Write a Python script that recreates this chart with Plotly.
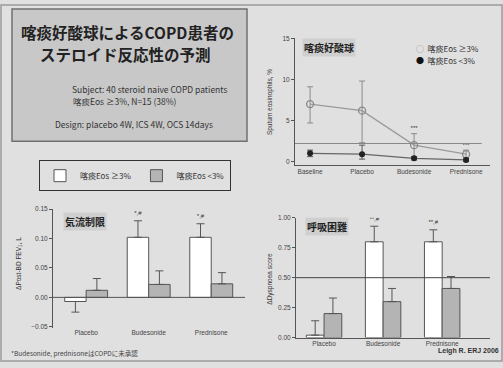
import plotly.graph_objects as go

W, H = 503, 368
FONT = "Liberation Sans, Noto Sans CJK JP"
JP = "Noto Sans CJK JP, Liberation Sans"

# ---- data ----
sp_cats = ["Baseline", "Placebo", "Budesonide", "Prednisone"]
sp_high = [7.0, 6.2, 2.0, 0.9]
sp_high_up = [2.1, 3.6, 1.4, 0.5]
sp_high_dn = [2.3, 3.9, 1.4, 0.4]
sp_low = [1.0, 0.9, 0.4, 0.2]
sp_low_up = [0.4, 1.1, 0.2, 0.2]
sp_low_dn = [0.4, 0.6, 0.2, 0.2]
sp_ref = 2.2

tr_cats = ["Placebo", "Budesonide", "Prednisone"]
fev_high = [-0.007, 0.102, 0.102]
fev_high_up = [0.0, 0.028, 0.023]
fev_high_dn = [0.018, 0.0, 0.0]
fev_low = [0.012, 0.022, 0.023]
fev_low_up = [0.020, 0.023, 0.019]

dys_high = [0.02, 0.80, 0.80]
dys_high_up = [0.12, 0.13, 0.10]
dys_low = [0.20, 0.30, 0.41]
dys_low_up = [0.13, 0.11, 0.10]
dys_ref = 0.5

sig_fev = ["", "*,#", "*,#"]
sig_dys = ["", "**,#", "**,#"]
sig_sp = ["", "", "***", "***"]

lab_high = "喀痰Eos ≥3%"
lab_low = "喀痰Eos <3%"

BG = "#e0e0e0"
AX = "#555555"
GREY = "#b4b4b4"

def px(x): return x / W
def py(y): return 1 - y / H

def keep(xs, ys, labels):
    idx = [i for i, t in enumerate(labels) if t]
    return [xs[i] for i in idx], [ys[i] for i in idx], [labels[i] for i in idx]

fig = go.Figure()

# ---- chart 1: sputum eosinophils ----
xs = list(range(len(sp_cats)))
fig.add_trace(go.Scatter(
    x=xs, y=sp_high, mode="lines+markers", name=lab_high, showlegend=False,
    line=dict(color="#9a9a9a", width=1.3),
    marker=dict(symbol="circle-open", size=7, color="#888888", line=dict(width=1.3)),
    error_y=dict(type="data", array=sp_high_up, arrayminus=sp_high_dn, symmetric=False,
                 color="#8a8a8a", thickness=1, width=3),
    xaxis="x", yaxis="y"))
fig.add_trace(go.Scatter(
    x=xs, y=sp_low, mode="lines+markers", name=lab_low, showlegend=False,
    line=dict(color="#666666", width=1.3),
    marker=dict(symbol="circle", size=6, color="#222222"),
    error_y=dict(type="data", array=sp_low_up, arrayminus=sp_low_dn, symmetric=False,
                 color="#555555", thickness=1, width=3),
    xaxis="x", yaxis="y"))
sx, sy, st = keep(xs, [h + u + 0.6 for h, u in zip(sp_high, sp_high_up)], sig_sp)
fig.add_trace(go.Scatter(
    x=sx, y=sy, mode="text", text=st, textfont=dict(size=6, color="#333"), showlegend=False,
    xaxis="x", yaxis="y", hoverinfo="skip"))

# ---- chart 2: FEV1 ----
x3 = list(range(len(tr_cats)))
w2 = 0.343
fig.add_trace(go.Bar(
    x=x3, y=fev_high, width=w2, offset=-w2, name=lab_high,
    marker=dict(color="white", line=dict(color=AX, width=1)),
    error_y=dict(type="data", array=fev_high_up, arrayminus=fev_high_dn, symmetric=False,
                 color=AX, thickness=1, width=4),
    xaxis="x2", yaxis="y2", legend="legend2"))
fig.add_trace(go.Bar(
    x=x3, y=fev_low, width=w2, offset=0, name=lab_low,
    marker=dict(color=GREY, line=dict(color=AX, width=1)),
    error_y=dict(type="data", array=fev_low_up, arrayminus=[0]*3, symmetric=False,
                 color=AX, thickness=1, width=4),
    xaxis="x2", yaxis="y2", legend="legend2"))
sx, sy, st = keep([x - w2 / 2 for x in x3], [h + u + 0.012 for h, u in zip(fev_high, fev_high_up)], sig_fev)
fig.add_trace(go.Scatter(
    x=sx, y=sy, mode="text", text=st, textfont=dict(size=6, color="#333"), showlegend=False,
    xaxis="x2", yaxis="y2", hoverinfo="skip"))

# ---- chart 3: dyspnoea ----
w3 = 0.30
fig.add_trace(go.Bar(
    x=x3, y=dys_high, width=w3, offset=-w3, name=lab_high, showlegend=False,
    marker=dict(color="white", line=dict(color=AX, width=1)),
    error_y=dict(type="data", array=dys_high_up, arrayminus=[0]*3, symmetric=False,
                 color=AX, thickness=1, width=4),
    xaxis="x3", yaxis="y3"))
fig.add_trace(go.Bar(
    x=x3, y=dys_low, width=w3, offset=0, name=lab_low, showlegend=False,
    marker=dict(color=GREY, line=dict(color=AX, width=1)),
    error_y=dict(type="data", array=dys_low_up, arrayminus=[0]*3, symmetric=False,
                 color=AX, thickness=1, width=4),
    xaxis="x3", yaxis="y3"))
sx, sy, st = keep([x - w3 / 2 for x in x3], [h + u + 0.06 for h, u in zip(dys_high, dys_high_up)], sig_dys)
fig.add_trace(go.Scatter(
    x=sx, y=sy, mode="text", text=st, textfont=dict(size=6, color="#333"), showlegend=False,
    xaxis="x3", yaxis="y3", hoverinfo="skip"))

axcommon = dict(showline=True, linecolor=AX, linewidth=1, ticklen=3,
                tickcolor=AX, showgrid=False, zeroline=False,
                tickfont=dict(size=6.5, color="#444", family=FONT), fixedrange=True)

fig.update_layout(
    width=W, height=H, margin=dict(l=0, r=0, t=0, b=0),
    paper_bgcolor=BG, plot_bgcolor="rgba(0,0,0,0)",
    font=dict(family=FONT, color="#333"),
    barmode="overlay",
    xaxis=dict(domain=[px(295), px(490)], range=[-0.29, 3.46], anchor="y",
               tickvals=xs, ticktext=sp_cats, ticks="", **axcommon),
    yaxis=dict(domain=[py(164), py(35)], range=[-0.4, 15], anchor="x", ticks="outside",
               tickvals=[0, 5, 10, 15], **axcommon),
    xaxis2=dict(domain=[px(53), px(245)], range=[-0.53, 2.54], anchor="y2",
                tickvals=x3, ticktext=tr_cats, ticks="", **{**axcommon, "showline": False}),
    yaxis2=dict(domain=[py(330), py(209)], range=[-0.0515, 0.15], anchor="x2", ticks="outside",
                tickvals=[-0.05, 0, 0.05, 0.10, 0.15], tickformat=".2f", **axcommon),
    xaxis3=dict(domain=[px(296), px(490)], range=[-0.475, 2.81], anchor="y3",
                tickvals=x3, ticktext=tr_cats, ticks="", **axcommon),
    yaxis3=dict(domain=[py(340), py(218)], range=[0, 1.0], anchor="x3", ticks="outside",
                tickvals=[0, 0.25, 0.5, 0.75, 1.0], tickformat=".2f", **axcommon),
    legend2=dict(x=px(135), y=py(175), xanchor="center", yanchor="middle", orientation="h",
                 bgcolor="rgba(0,0,0,0)", bordercolor="#333", borderwidth=1,
                 font=dict(size=8, family=JP, color="#333"), itemwidth=30),
    showlegend=True,
)

shapes = [
    dict(type="rect", xref="paper", yref="paper", x0=px(1), x1=px(502), y0=py(364), y1=py(1),
         line=dict(color="#9a9a9a", width=1.5)),
    dict(type="rect", xref="paper", yref="paper", x0=px(12), x1=px(247), y0=py(140), y1=py(5),
         fillcolor="#c8c8c8", line=dict(color="#707070", width=1.5), layer="below"),
    dict(type="line", xref="x", yref="y", x0=-0.29, x1=3.3, y0=sp_ref, y1=sp_ref,
         line=dict(color="#888888", width=1)),
    dict(type="line", xref="x3", yref="y3", x0=-0.475, x1=2.81, y0=dys_ref, y1=dys_ref,
         line=dict(color="#444444", width=1)),
    dict(type="line", xref="x2", yref="y2", x0=-0.53, x1=2.54, y0=0, y1=0,
         line=dict(color=AX, width=1)),
]
fig.update_layout(shapes=shapes)

ann = [
    dict(text="<b>喀痰好酸球によるCOPD患者の</b>", x=px(128), y=py(29), font=dict(size=15.5, family=JP, color="#222")),
    dict(text="<b>ステロイド反応性の予測</b>", x=px(125), y=py(51), font=dict(size=15.5, family=JP, color="#222")),
    dict(text="Subject: 40 steroid naive COPD patients", x=px(149), y=py(87), font=dict(size=8.5, family=JP, color="#333")),
    dict(text="喀痰Eos ≥3%, N=15 (38%)", x=px(125), y=py(99), font=dict(size=8.5, family=JP, color="#333")),
    dict(text="Design: placebo 4W, ICS 4W, OCS 14days", x=px(134), y=py(122), font=dict(size=8.5, family=JP, color="#333")),
    dict(text="<b>喀痰好酸球</b>", x=px(302), y=py(44), xanchor="left", bgcolor="#cfcfcf",
         font=dict(size=10, family=JP, color="#222")),
    dict(text="<b>気流制限</b>", x=px(63), y=py(222), xanchor="left", bgcolor="#cfcfcf",
         font=dict(size=10, family=JP, color="#222")),
    dict(text="<b>呼吸困難</b>", x=px(305), y=py(227), xanchor="left", bgcolor="#cfcfcf",
         font=dict(size=10, family=JP, color="#222")),
    dict(text="<span style='color:#888'>○</span>  " + lab_high, x=px(414), y=py(45), xanchor="left",
         font=dict(size=8, family=JP, color="#333")),
    dict(text="<span style='color:#111'>●</span>  " + lab_low, x=px(414), y=py(58), xanchor="left",
         font=dict(size=8, family=JP, color="#333")),
    dict(text="Sputum eosinophils, %", x=px(270), y=py(100), textangle=-90, font=dict(size=6.5, color="#333")),
    dict(text="ΔPost-BD FEV<sub>1</sub>, L", x=px(19), y=py(265), textangle=-90, font=dict(size=6.5, color="#333")),
    dict(text="ΔDyspnoea score", x=px(270), y=py(280), textangle=-90, font=dict(size=6.5, color="#333")),
    dict(text="*Budesonide, prednisoneはCOPDに未承認", x=px(9), y=py(356), xanchor="left",
         font=dict(size=6.5, family=JP, color="#444")),
    dict(text="<b>Leigh R. ERJ 2006</b>", x=px(501), y=py(354), xanchor="right",
         font=dict(size=7, color="#333")),
]
for a in ann:
    a.setdefault("xref", "paper")
    a.setdefault("yref", "paper")
    a.setdefault("showarrow", False)
    a.setdefault("xanchor", "center")
    a.setdefault("yanchor", "middle")
fig.update_layout(annotations=ann)

fig.write_html("out.html", config={"displayModeBar": False},
               post_script="document.body.style.margin='0';document.body.style.overflow='hidden';")
